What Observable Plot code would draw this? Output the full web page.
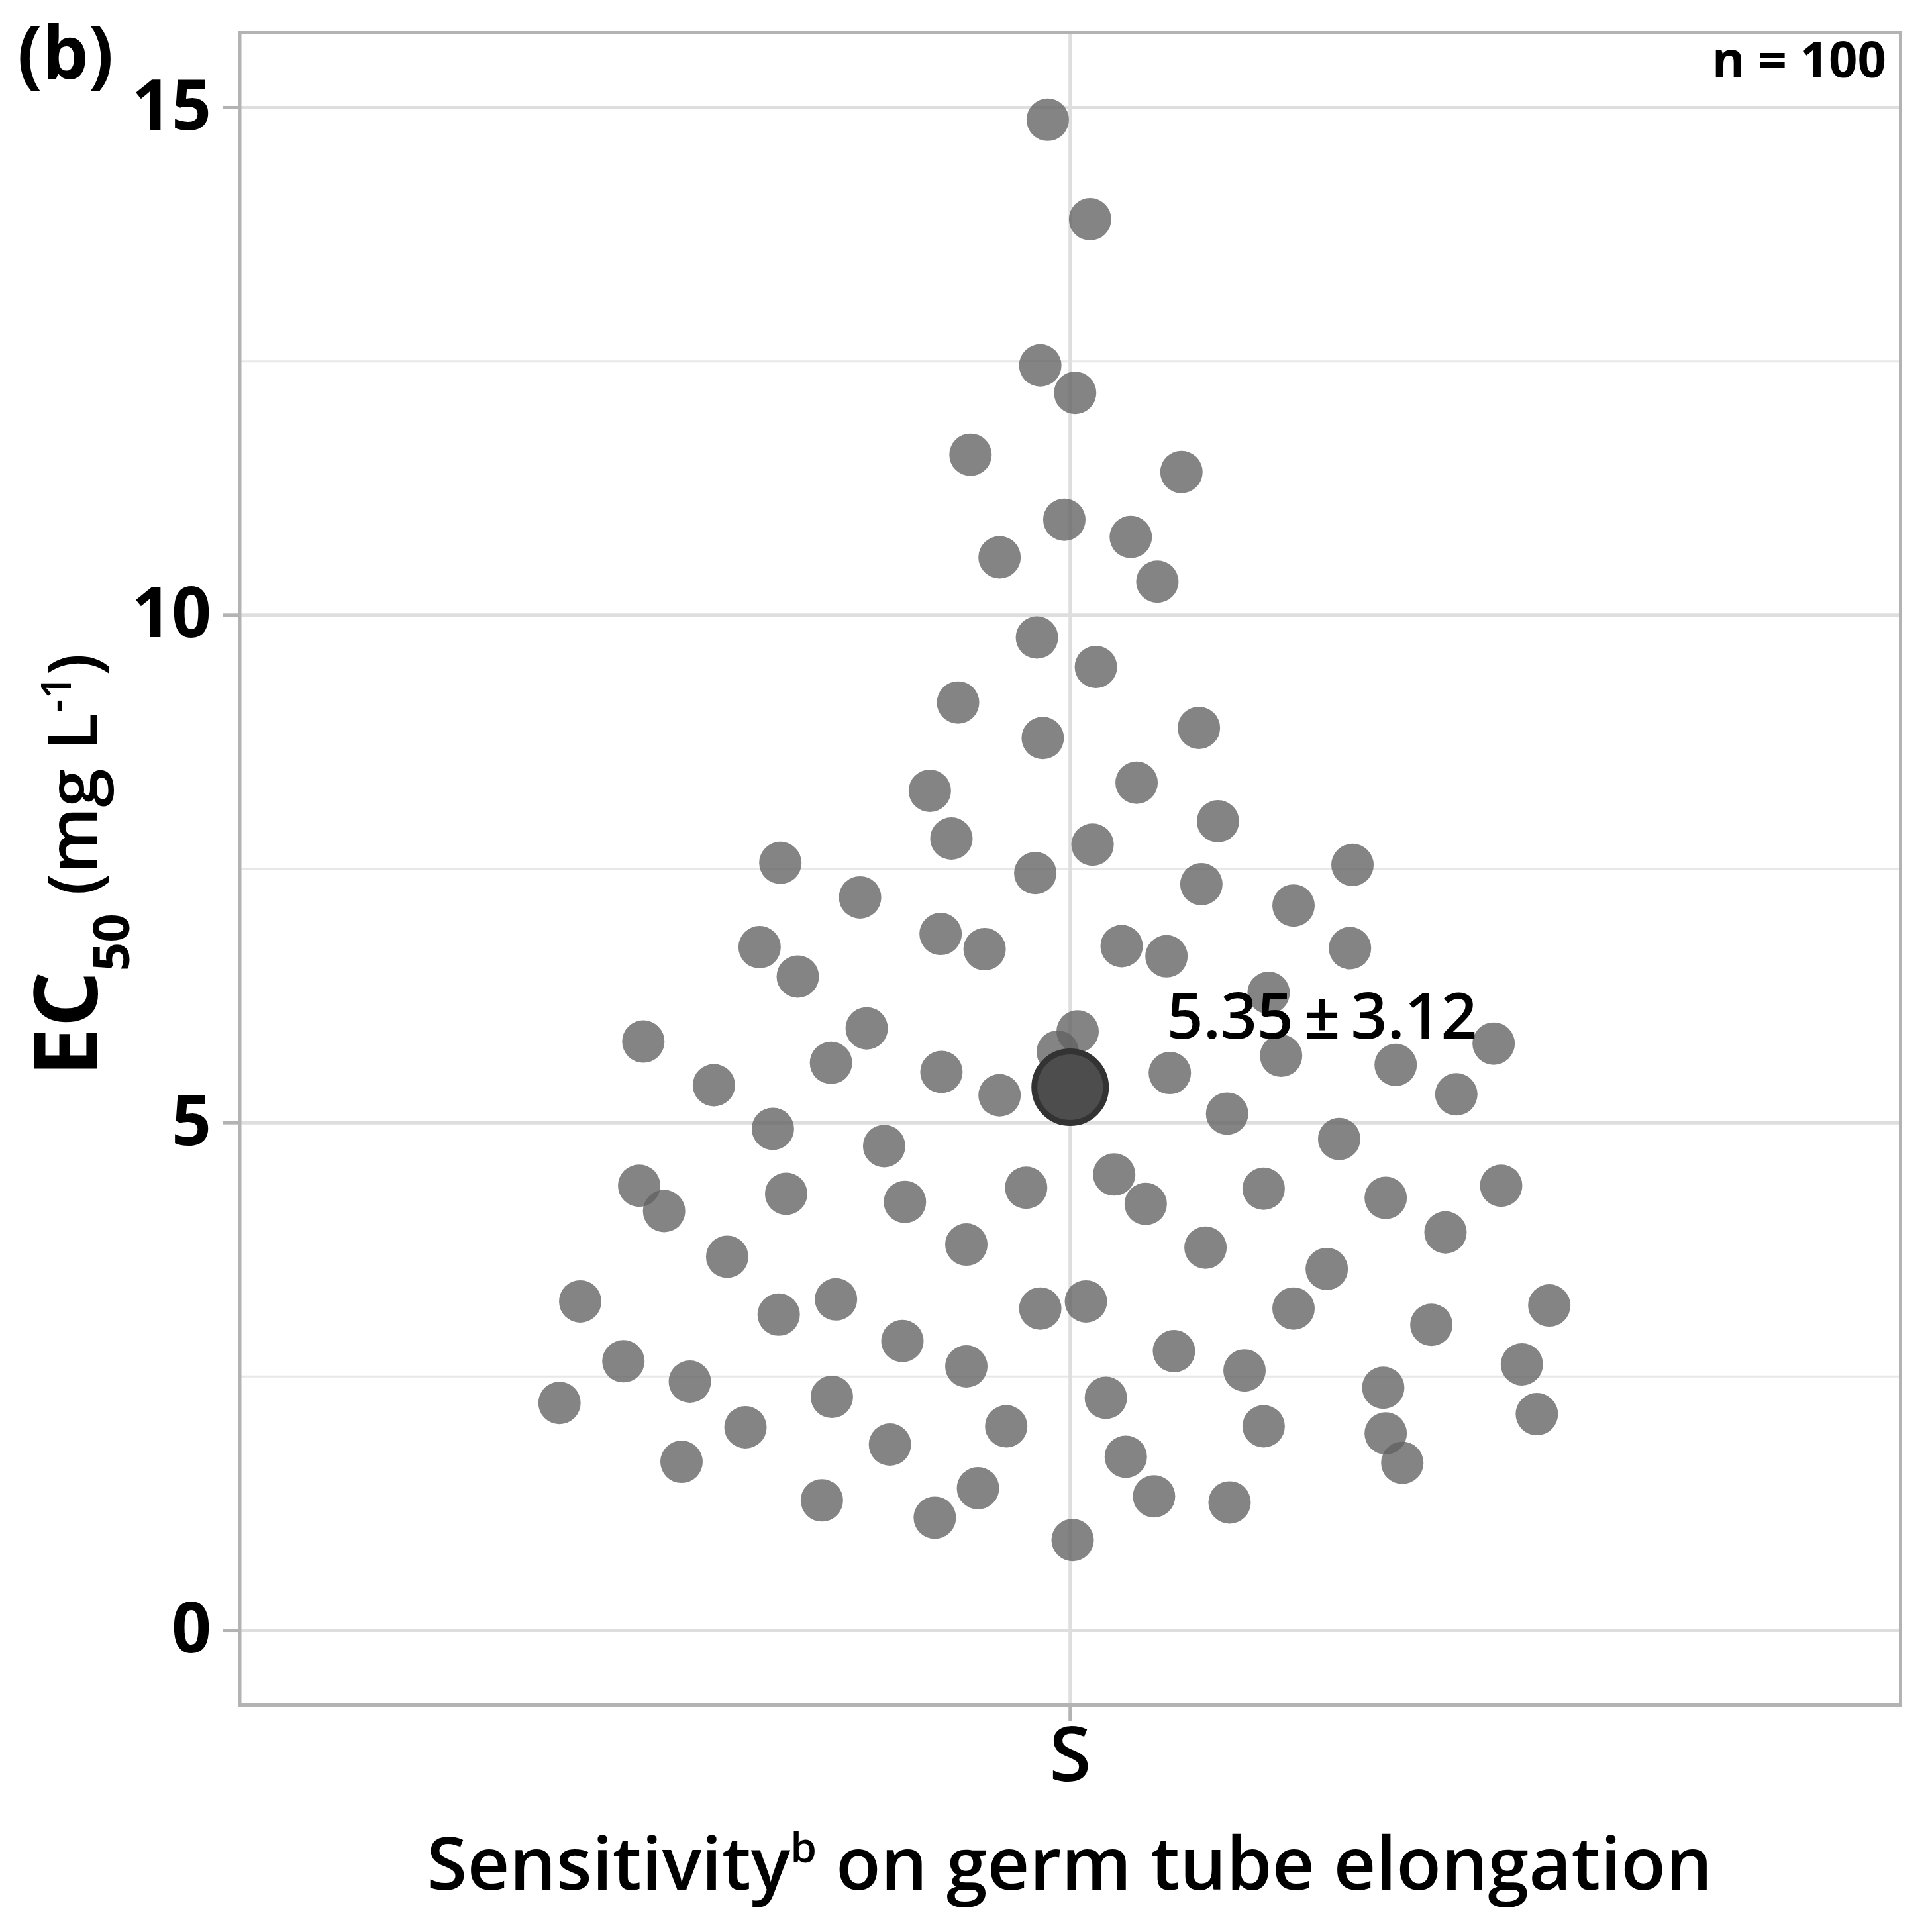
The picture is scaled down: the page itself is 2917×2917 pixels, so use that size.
<!DOCTYPE html>
<html>
<head>
<meta charset="utf-8">
<script src="https://cdn.jsdelivr.net/npm/d3@7"></script>
<script src="https://cdn.jsdelivr.net/npm/@observablehq/plot@0.6"></script>
<style>
  html, body { margin: 0; padding: 0; background: #ffffff; }
  svg text { font-family: "Open Sans", sans-serif; }
</style>
</head>
<body>
<div id="chart"></div>
<script>
// EC50 values (mg L-1) for the 100 isolates
const ec50 = [
  14.88, 13.90, 12.46, 12.19, 11.58, 11.41, 10.94, 10.77, 10.57, 10.33,
  9.78, 9.49, 9.14, 8.89, 8.79, 8.27, 8.35, 7.97, 7.80, 7.74,
  7.56, 7.54, 7.22, 7.46, 7.35, 7.14, 6.73, 6.86, 6.71, 6.74,
  6.64, 6.72, 6.44, 6.28, 5.80, 5.93, 5.90, 5.78, 5.70, 5.66,
  5.59, 5.50, 5.49, 5.57, 5.37, 5.27, 5.28, 4.94, 5.09, 4.77,
  4.84, 4.38, 4.30, 4.36, 4.49, 4.35, 4.38, 4.13, 4.22, 4.20,
  4.26, 3.92, 3.68, 3.80, 3.77, 3.56, 3.24, 3.26, 3.24, 3.20,
  3.11, 3.17, 3.17, 3.01, 2.85, 2.75, 2.65, 2.60, 2.56, 2.62,
  2.45, 2.39, 2.24, 2.30, 2.29, 2.13, 2.00, 2.01, 2.01, 1.94,
  1.83, 1.71, 1.66, 1.65, 1.40, 1.28, 1.32, 1.26, 1.11, 0.89
];
// horizontal jitter of each point around the category (fraction of half panel width)
const jitter = [
  -0.027, 0.024, -0.036, 0.006, -0.120, 0.134, -0.007, 0.073, -0.085, 0.105,
  -0.040, 0.031, -0.135, 0.155, -0.033, -0.169, 0.080, 0.178, -0.143, 0.027,
  -0.349, 0.340, -0.253, -0.042, 0.158, 0.269, -0.374, -0.156, -0.103, 0.062,
  0.116, 0.337, -0.328, 0.239, -0.514, -0.245, 0.009, 0.510, -0.015, 0.254,
  -0.288, -0.155, 0.120, 0.392, -0.429, -0.085, 0.465, -0.358, 0.189, -0.224,
  0.324, -0.519, -0.342, -0.053, 0.053, 0.233, 0.519, -0.489, -0.199, 0.091,
  0.380, 0.452, -0.413, -0.125, 0.163, 0.309, -0.590, -0.282, 0.019, 0.577,
  -0.351, -0.036, 0.269, 0.435, -0.202, 0.125, -0.538, -0.125, 0.210, 0.544,
  -0.458, 0.377, -0.615, -0.287, 0.043, 0.562, -0.391, -0.077, 0.233, 0.380,
  -0.217, 0.067, -0.468, 0.400, -0.111, -0.299, 0.101, 0.192, -0.163, 0.003
];
const category = "S";
const meanValue = 5.35;
const sdValue = 3.12;
const nIsolates = 100;
const yTicks = [0, 5, 10, 15];
const yMinorTicks = [2.5, 7.5, 12.5];

const points = ec50.map((v, i) => ({v, j: jitter[i]}));
const meanRow = [{j: 0, v: meanValue, label: `${meanValue.toFixed(2)}\u2009±\u2009${sdValue.toFixed(2)}`}];

const W = 2917, H = 2917;
const mL = 361.5, mR = W - 2869, mT = 49, mB = H - 2574;

const plot = Plot.plot({
  width: W,
  height: H,
  marginLeft: mL,
  marginRight: mR,
  marginTop: mT,
  marginBottom: mB,
  style: {fontFamily: "Open Sans", background: "#ffffff", color: "#000000"},
  x: {domain: [-1, 1], axis: null},
  y: {domain: [-0.737, 15.737], axis: null},
  marks: [
    Plot.gridY(yMinorTicks, {stroke: "#e8e8e8", strokeWidth: 3, strokeOpacity: 1}),
    Plot.gridY(yTicks, {stroke: "#dedede", strokeWidth: 5, strokeOpacity: 1}),
    Plot.ruleX([0], {stroke: "#dedede", strokeWidth: 5}),
    Plot.dot(points, {x: "j", y: "v", r: 32, fill: "#626262", fillOpacity: 0.78, stroke: "none"}),
    Plot.dot(meanRow, {x: "j", y: "v", r: 54, fill: "#4d4d4d", stroke: "#333333", strokeWidth: 9}),
    Plot.text(meanRow, {x: "j", y: "v", text: "label", textAnchor: "start", lineAnchor: "bottom",
      dx: 146, dy: -74, fontSize: 96, fontWeight: 600, fill: "#000000"}),
    Plot.frame({stroke: "#b3b3b3", strokeWidth: 5}),
    Plot.axisY(yTicks, {tickSize: 25, tickPadding: 18, stroke: "#b3b3b3", strokeWidth: 5,
      tickFormat: d => String(d), fontSize: 105, fontWeight: 700, fill: "#000000", label: null}),
    Plot.axisX([0], {tickSize: 25, tickPadding: 8, stroke: "#b3b3b3", strokeWidth: 5,
      tickFormat: () => category, fontSize: 115, fontWeight: 600, fill: "#000000", label: null})
  ]
});

document.getElementById("chart").appendChild(plot);

const svg = d3.select(plot);

// panel tag
svg.append("text")
  .attr("x", 26).attr("y", 119)
  .attr("text-anchor", "start")
  .attr("font-size", 111).attr("font-weight", 700).attr("fill", "#000")
  .text("(b)");

// sample size
svg.append("text")
  .attr("x", 2848).attr("y", 117)
  .attr("text-anchor", "end")
  .attr("font-size", 76).attr("font-weight", 700).attr("fill", "#000")
  .text(`n = ${nIsolates}`);

// x title
const xt = svg.append("text")
  .attr("x", 1615).attr("y", 2853)
  .attr("text-anchor", "middle")
  .attr("font-size", 111).attr("font-weight", 600).attr("fill", "#000");
xt.append("tspan").text("Sensitivity");
xt.append("tspan").attr("font-size", 64).attr("dy", -41).text("b");
xt.append("tspan").attr("dy", 41).text(" on germ tube elongation");

// y title
const yt = svg.append("text")
  .attr("transform", "translate(147,1306) rotate(-90)")
  .attr("text-anchor", "middle")
  .attr("fill", "#000");
yt.append("tspan").attr("font-size", 133).attr("font-weight", 700).text("EC");
yt.append("tspan").attr("font-size", 76).attr("font-weight", 700).attr("dy", 48).text("50");
yt.append("tspan").attr("font-size", 105).attr("font-weight", 600).attr("dy", -48).text(" (mg L");
yt.append("tspan").attr("font-size", 63).attr("font-weight", 600).attr("dy", -40).text("-1");
yt.append("tspan").attr("font-size", 105).attr("font-weight", 600).attr("dy", 40).text(")");
</script>
</body>
</html>
